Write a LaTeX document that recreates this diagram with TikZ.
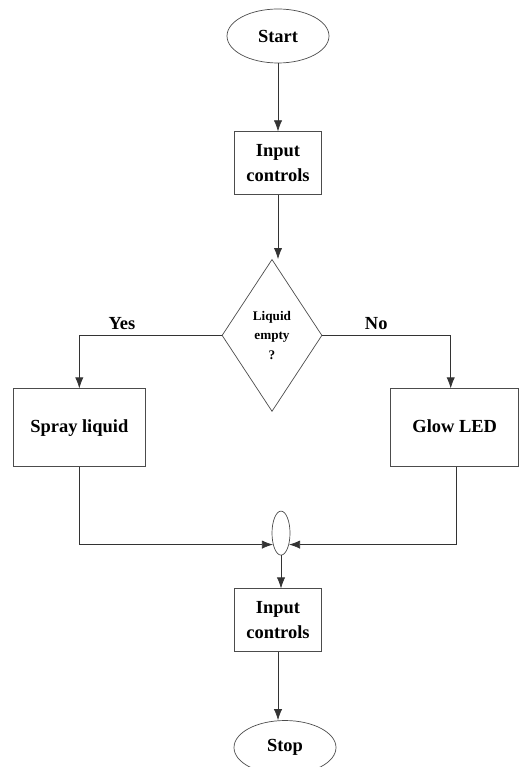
\documentclass[tikz,border=0pt]{standalone}
\usepackage{fontspec}
\setmainfont{Liberation Serif}
\usetikzlibrary{positioning,arrows.meta,shapes.geometric,calc}

\begin{document}
\begin{tikzpicture}[
  node distance=1.3cm and 1.3cm,
  font=\fontsize{10.5}{14}\selectfont\bfseries,
  term/.style={draw=black!70, ellipse, minimum width=2.04cm, minimum height=1.08cm, inner sep=0pt},
  box/.style={draw=black!70, align=center, minimum width=1.74cm, minimum height=1.26cm},
  bigbox/.style={draw=black!70, align=center, minimum width=2.64cm, minimum height=1.56cm, text depth=0.06cm},
  decision/.style={draw=black!70, diamond, aspect=0.66, minimum width=2cm, minimum height=3.04cm, inner sep=0pt, align=center, font=\fontsize{7.5}{11}\selectfont\bfseries},
  joint/.style={draw=black!70, ellipse, minimum width=0.36cm, minimum height=0.88cm, inner sep=0pt},
  arr/.style={-{Latex[length=2.2mm]}, draw=black!80}
]
  \useasboundingbox (0,0) rectangle (10.42,-15.34);
  \node[term] (start) at (5.56,-0.72) {Start};
  \node[box, below=1.36cm of start] (input) {Input\\controls};
  \node[decision, below=1.28cm of input, xshift=-0.12cm] (liquid) {Liquid\\empty\\?};
  \node[bigbox, anchor=north east] (spray) at ([xshift=-1.52cm, yshift=-1.06cm]liquid.west) {Spray liquid};
  \node[bigbox, minimum width=2.56cm, anchor=north west] (glow) at ([xshift=1.36cm, yshift=-1.06cm]liquid.east) {Glow LED};
  \node[joint, below=1.98cm of liquid, xshift=0.18cm] (merge) {};
  \node[box, below=0.66cm of merge, xshift=-0.06cm] (input2) {Input\\controls};
  \node[term, below=1.36cm of input2, xshift=0.14cm] (stop) {Stop};

  \draw[arr] (start) -- (input);
  \draw[arr] (input.south) -- (input.south |- liquid.north);
  \draw[arr] (liquid.west) -| node[pos=0.35, above]{Yes} (spray.north);
  \draw[arr] (liquid.east) -| node[pos=0.21, above]{No} ([xshift=-0.08cm]glow.north);
  \draw[arr] (spray.south) |- (merge.235);
  \draw[arr] ([xshift=0.04cm]glow.south) |- (merge.305);
  \draw[arr] (merge.south) -- (merge.south |- input2.north);
  \draw[arr] (input2.south) -- (input2.south |- stop.north);
\end{tikzpicture}
\end{document}
